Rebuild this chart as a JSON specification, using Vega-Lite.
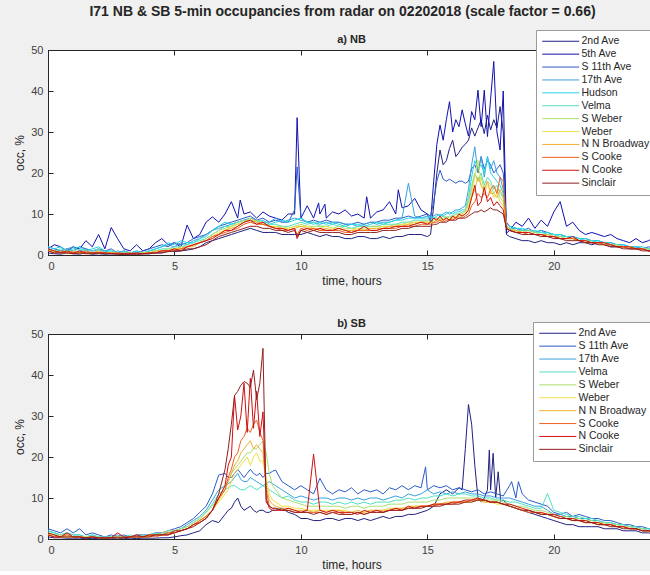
{
  "$schema": "https://vega.github.io/schema/vega-lite/v6.json",
  "background": "#f0f0f0",
  "padding": {"left": 13, "top": 5, "right": 0, "bottom": 0},
  "title": {
    "text": "I71 NB & SB 5-min occupancies from radar on 02202018 (scale factor = 0.66)",
    "fontSize": 14, "fontWeight": "bold", "color": "#262626", "anchor": "middle", "offset": 10, "dx": -9, "font": "Liberation Sans"
  },
  "config": {
    "font": "Liberation Sans",
    "view": {"stroke": "#262626", "fill": "white"},
    "axis": {
      "domainColor": "#262626", "tickColor": "#262626", "labelColor": "#404040", "titleColor": "#262626",
      "labelFontSize": 11, "titleFontSize": 12, "titleFontWeight": "normal", "grid": false,
      "tickSize": -5, "labelPadding": 10, "labelFont": "Liberation Sans", "titleFont": "Liberation Sans"
    },
    "legend": {
      "symbolType": "M-8,0H8", "symbolSize": 21.4, "symbolStrokeWidth": 1, "symbolOffset": 13.5,
      "labelFontSize": 10.5, "labelColor": "#262626", "labelFont": "Liberation Sans", "labelOffset": 15.5,
      "fillColor": "white", "strokeColor": "#9a9a9a", "padding": 6, "rowPadding": 1.9
    },
    "title": {"fontSize": 11, "fontWeight": "bold", "color": "#262626", "frame": "group", "font": "Liberation Sans"}
  },
  "datasets": {
    "stations": [
      {"key": "a", "name": "2nd Ave"}, {"key": "b", "name": "5th Ave"}, {"key": "c", "name": "S 11th Ave"},
      {"key": "d", "name": "17th Ave"}, {"key": "e", "name": "Hudson"}, {"key": "f", "name": "Velma"},
      {"key": "g", "name": "S Weber"}, {"key": "h", "name": "Weber"}, {"key": "i", "name": "N N Broadway"},
      {"key": "j", "name": "S Cooke"}, {"key": "k", "name": "N Cooke"}, {"key": "l", "name": "Sinclair"}
    ],
    "nb": [
      {"t":0,"a":0.5,"b":1.5,"c":2,"d":1.5,"e":2,"f":1.5,"g":1,"h":1,"i":1,"j":1,"k":1.5,"l":1},
      {"t":0.25,"a":0.3,"b":2.5,"c":1.5,"d":1,"e":1.5,"f":1,"g":1,"h":0.5,"i":1,"j":0.5,"k":1,"l":0.5},
      {"t":0.5,"a":0.2,"b":2,"c":1,"d":1,"e":2,"f":1.5,"g":0.5,"h":1,"i":0.5,"j":1,"k":0.5,"l":0.5},
      {"t":0.75,"a":0.5,"b":1,"c":1.5,"d":1.5,"e":1,"f":1,"g":1,"h":0.5,"i":0.5,"j":0.5,"k":1,"l":0.5},
      {"t":1,"a":0.3,"b":2,"c":1,"d":2,"e":1.5,"f":1,"g":0.5,"h":0.5,"i":1,"j":0.5,"k":0.5,"l":0.3},
      {"t":1.25,"a":0.2,"b":1.5,"c":2,"d":1,"e":2,"f":1.5,"g":1,"h":0.5,"i":0.5,"j":0.5,"k":1,"l":0.5},
      {"t":1.5,"a":0.5,"b":3.5,"c":1.5,"d":1.5,"e":1,"f":1,"g":0.5,"h":0.5,"i":0.5,"j":1,"k":0.5,"l":0.3},
      {"t":1.75,"a":0.2,"b":2,"c":1,"d":1,"e":1.5,"f":1,"g":0.5,"h":0.5,"i":0.5,"j":0.5,"k":0.5,"l":0.3},
      {"t":2,"a":0.3,"b":5,"c":1.5,"d":1,"e":2,"f":1.5,"g":1,"h":0.5,"i":1,"j":0.5,"k":0.5,"l":0.5},
      {"t":2.25,"a":0.2,"b":1.5,"c":1,"d":1,"e":1,"f":0.5,"g":0.5,"h":0.5,"i":0.5,"j":0.5,"k":0.5,"l":0.3},
      {"t":2.5,"a":0.3,"b":6.7,"c":1.5,"d":0.5,"e":1,"f":1,"g":0.5,"h":0.5,"i":0.5,"j":0.5,"k":0.3,"l":0.3},
      {"t":2.75,"a":0.2,"b":4,"c":0.5,"d":1,"e":0.5,"f":0.5,"g":0.5,"h":0.5,"i":0.3,"j":0.3,"k":0.5,"l":0.2},
      {"t":3,"a":0.1,"b":1.5,"c":1,"d":0.5,"e":1,"f":0.5,"g":0.3,"h":0.3,"i":0.5,"j":0.3,"k":0.3,"l":0.2},
      {"t":3.25,"a":0.2,"b":1,"c":0.5,"d":0.5,"e":0.5,"f":0.5,"g":0.5,"h":0.3,"i":0.3,"j":0.5,"k":0.3,"l":0.2},
      {"t":3.5,"a":0.1,"b":2.5,"c":0.5,"d":1,"e":1,"f":0.5,"g":0.3,"h":0.3,"i":0.3,"j":0.3,"k":0.5,"l":0.2},
      {"t":3.75,"a":0.3,"b":1,"c":1,"d":0.5,"e":0.5,"f":0.5,"g":0.5,"h":0.5,"i":0.5,"j":0.3,"k":0.3,"l":0.3},
      {"t":4,"a":0.3,"b":1.5,"c":1.5,"d":1,"e":1,"f":1,"g":0.5,"h":0.5,"i":0.5,"j":0.5,"k":0.5,"l":0.3},
      {"t":4.25,"a":0.5,"b":3,"c":2,"d":1.5,"e":1.5,"f":1,"g":1,"h":0.5,"i":1,"j":0.5,"k":0.5,"l":0.5},
      {"t":4.5,"a":0.5,"b":4,"c":2.5,"d":2,"e":2,"f":1.5,"g":1,"h":1,"i":1,"j":1,"k":1,"l":0.5},
      {"t":4.75,"a":1,"b":2.5,"c":2,"d":2.5,"e":3,"f":1.5,"g":1.5,"h":1,"i":1,"j":1,"k":1,"l":0.8},
      {"t":5,"a":0.8,"b":3,"c":3,"d":2,"e":2.5,"f":2,"g":1.5,"h":1.5,"i":1.5,"j":1,"k":1.5,"l":1},
      {"t":5.25,"a":1,"b":2,"c":2.5,"d":3,"e":3.5,"f":2,"g":2,"h":1.5,"i":1.5,"j":1.5,"k":1,"l":1},
      {"t":5.5,"a":1.2,"b":7.3,"c":3,"d":2.5,"e":3,"f":2.5,"g":2,"h":2,"i":2,"j":2,"k":2,"l":1.5},
      {"t":5.75,"a":1.5,"b":4,"c":4,"d":3.5,"e":3,"f":3,"g":2.5,"h":2.5,"i":2,"j":2.5,"k":2.5,"l":1.5},
      {"t":6,"a":2,"b":5,"c":4.5,"d":4,"e":4,"f":3.5,"g":3,"h":3,"i":3,"j":3,"k":3,"l":2},
      {"t":6.25,"a":3,"b":8,"c":5,"d":5,"e":4.5,"f":4,"g":4,"h":3.5,"i":3.5,"j":3.5,"k":3.5,"l":2.5},
      {"t":6.5,"a":3.5,"b":9.3,"c":6,"d":6,"e":6,"f":5,"g":5,"h":4.5,"i":4.5,"j":4.5,"k":4,"l":3.5},
      {"t":6.75,"a":4,"b":8,"c":7,"d":6.5,"e":7,"f":6,"g":6,"h":5.5,"i":5,"j":5,"k":5,"l":4.5},
      {"t":7,"a":4.5,"b":10,"c":7.5,"d":7,"e":8,"f":7,"g":6.5,"h":6,"i":6,"j":5.5,"k":6,"l":5},
      {"t":7.25,"a":5,"b":13,"c":8,"d":7.5,"e":7.5,"f":7,"g":7,"h":7,"i":6.5,"j":6,"k":6,"l":5.5},
      {"t":7.5,"a":5.5,"b":9,"c":8.5,"d":8,"e":8,"f":7.5,"g":8,"h":7.5,"i":7,"j":6.5,"k":7,"l":6},
      {"t":7.6,"b":13.4},
      {"t":7.75,"a":6,"b":10,"c":9,"d":8.5,"e":8.5,"f":8,"g":8.5,"h":8,"i":8,"j":7.5,"k":8,"l":6.5},
      {"t":8,"a":6.5,"b":10.5,"c":9.5,"d":9,"e":8.5,"f":8.5,"g":8,"h":9,"i":8.5,"j":8,"k":8.5,"l":7},
      {"t":8.25,"a":6,"b":9,"c":8.5,"d":8.5,"e":8,"f":8,"g":8.5,"h":8,"i":8,"j":7.5,"k":7.5,"l":7},
      {"t":8.5,"a":5.5,"b":10.5,"c":9,"d":8,"e":8.5,"f":7.5,"g":8,"h":7.5,"i":7.5,"j":7.5,"k":8,"l":6.5},
      {"t":8.75,"a":5.5,"b":9.5,"c":8,"d":8,"e":7.5,"f":7.5,"g":7,"h":7,"i":7,"j":7,"k":7,"l":6.5},
      {"t":9,"a":5.5,"b":9,"c":8.5,"d":9,"e":8,"f":7.5,"g":7,"h":7,"i":6.5,"j":6.5,"k":6.5,"l":6},
      {"t":9.25,"a":5,"b":8.5,"c":8,"d":8,"e":8.5,"f":7,"g":7,"h":6.5,"i":6.5,"j":6,"k":6.5,"l":6},
      {"t":9.5,"a":5,"b":10,"c":8,"d":8.5,"e":8,"f":7,"g":6.5,"h":6.5,"i":6,"j":6,"k":6,"l":5.5},
      {"t":9.75,"a":5,"b":10,"c":11,"d":9,"e":8.5,"f":7.5,"g":7,"h":7,"i":6.5,"j":6.5,"k":6.5,"l":6},
      {"t":9.85,"b":33.5,"c":21.5,"j":5,"k":4,"l":4.5},
      {"t":10,"a":5,"b":9,"c":9,"d":8.5,"e":9,"f":8,"g":7.5,"h":7,"i":7,"j":6.5,"k":6,"l":6},
      {"t":10.25,"a":5.5,"b":12,"c":8,"d":8,"e":8,"f":7.5,"g":7,"h":7,"i":6.5,"j":6,"k":6.5,"l":5.5},
      {"t":10.5,"a":5,"b":9,"c":8.5,"d":8,"e":7.5,"f":8,"g":7,"h":6.5,"i":6.5,"j":6.5,"k":6,"l":6},
      {"t":10.7,"b":12.7},
      {"t":10.75,"a":4.5,"b":10,"c":8,"d":7.5,"e":8,"f":7,"g":7,"h":6.5,"i":6,"j":6,"k":6.5,"l":5.5},
      {"t":10.95,"b":12.4},
      {"t":11,"a":5,"b":9,"c":8.5,"d":8,"e":7.5,"f":7,"g":7,"h":7,"i":6.5,"j":6,"k":6,"l":5.5},
      {"t":11.25,"a":4.5,"b":10.5,"c":8,"d":7.5,"e":8,"f":7.5,"g":6.5,"h":6.5,"i":6,"j":6,"k":6,"l":5.5},
      {"t":11.5,"a":4.5,"b":10,"c":8,"d":8,"e":7.5,"f":7,"g":7,"h":6.5,"i":6.5,"j":6,"k":6.5,"l":5.5},
      {"t":11.75,"a":4,"b":11,"c":7.5,"d":7.5,"e":7,"f":7,"g":6.5,"h":6,"i":6,"j":5.5,"k":6,"l":5},
      {"t":12,"a":4,"b":9.5,"c":7.5,"d":7.5,"e":7.5,"f":6.5,"g":6.5,"h":6,"i":6,"j":5.5,"k":5.5,"l":5},
      {"t":12.25,"a":4.5,"b":10,"c":8,"d":7,"e":7.5,"f":7,"g":6.5,"h":6.5,"i":6,"j":6,"k":6,"l":5.5},
      {"t":12.5,"a":4.5,"b":9,"c":7.5,"d":7.5,"e":7,"f":7,"g":6.5,"h":6,"i":6,"j":6,"k":7,"l":5.5},
      {"t":12.6,"b":14.2},
      {"t":12.75,"a":4,"b":9,"c":8,"d":8,"e":7.5,"f":7,"g":7,"h":6.5,"i":6.5,"j":6,"k":6,"l":5.5},
      {"t":13,"a":4,"b":10.5,"c":8,"d":7.5,"e":8,"f":7,"g":7,"h":6.5,"i":6.5,"j":6,"k":6,"l":5.5},
      {"t":13.25,"a":4.5,"b":11,"c":8.5,"d":8,"e":7.5,"f":7.5,"g":7,"h":7,"i":6.5,"j":6.5,"k":6.5,"l":6},
      {"t":13.5,"a":4,"b":13,"c":8.5,"d":8,"e":8,"f":7.5,"g":7,"h":7,"i":7,"j":6.5,"k":6.5,"l":6},
      {"t":13.75,"a":4.5,"b":10,"c":9,"d":8.5,"e":8.5,"f":7.5,"g":7.5,"h":7,"i":7,"j":6.5,"k":7,"l":6},
      {"t":13.85,"b":15.9},
      {"t":14,"a":4.5,"b":11.5,"c":9,"d":9,"e":8.5,"f":8,"g":7.5,"h":7.5,"i":7,"j":7,"k":7,"l":6.5},
      {"t":14.25,"a":5,"b":12,"c":9.5,"d":17.5,"e":9,"f":8,"g":8,"h":7.5,"i":7.5,"j":7,"k":7,"l":6.5},
      {"t":14.5,"a":5,"b":13.8,"c":9,"d":9.5,"e":9,"f":8.5,"g":8,"h":8,"i":7.5,"j":7,"k":7.5,"l":7},
      {"t":14.75,"a":5,"b":11,"c":9.5,"d":9,"e":9,"f":8.5,"g":8,"h":8,"i":8,"j":7.5,"k":8,"l":7},
      {"t":15,"a":4.5,"b":10,"c":10,"d":9.5,"e":9,"f":8.5,"g":8.5,"h":8,"i":8,"j":7.5,"k":7.5,"l":7},
      {"t":15.125,"a":5,"b":8,"c":9.5,"d":9,"e":9.5,"f":8.5,"g":8,"h":8,"i":7.5,"j":7.5,"k":8,"l":7},
      {"t":15.25,"a":12,"b":18,"c":13,"d":9.5,"e":9,"f":9,"g":8.5,"h":8,"i":8,"j":8,"k":9,"l":7.5},
      {"t":15.375,"a":20,"b":27,"c":18,"d":10,"e":9.5,"f":9,"g":9,"h":8.5,"i":8.5,"j":8,"k":8.5,"l":7.5},
      {"t":15.5,"a":25.6,"b":31.7,"c":20.7,"d":9.5,"e":10,"f":9,"g":8.5,"h":9,"i":8.5,"j":8.5,"k":9.5,"l":8},
      {"t":15.625,"a":22,"b":28,"c":18.5,"d":10,"e":9.5,"f":9.5,"g":9,"h":8.5,"i":8.5,"j":8,"k":8.5,"l":8},
      {"t":15.75,"a":23,"b":33,"c":18,"d":10.5,"e":10,"f":9,"g":9.5,"h":9,"i":9,"j":8.5,"k":9,"l":8},
      {"t":15.875,"a":26,"b":37.4,"c":18.5,"d":10,"e":10.5,"f":9.5,"g":9,"h":9,"i":8.5,"j":8.5,"k":8.5,"l":8.5},
      {"t":16,"a":28,"b":30,"c":18,"d":10.5,"e":10,"f":9.5,"g":9.5,"h":9,"i":9,"j":8.5,"k":9.5,"l":8.5},
      {"t":16.125,"a":24,"b":33,"c":17.5,"d":11,"e":10.5,"f":10,"g":10,"h":9.5,"i":9,"j":9,"k":9,"l":8.5},
      {"t":16.25,"a":25,"b":31.3,"c":18,"d":11,"e":10.5,"f":10,"g":10,"h":9.5,"i":9.5,"j":9,"k":10,"l":9},
      {"t":16.375,"a":26.3,"b":35.4,"c":18,"d":11.5,"e":11,"f":10.5,"g":10,"h":10,"i":9.5,"j":9,"k":9.5,"l":9},
      {"t":16.5,"a":27,"b":32,"c":17.5,"d":12,"e":11,"f":10.5,"g":11,"h":10.5,"i":10,"j":9.5,"k":10,"l":9},
      {"t":16.625,"a":28,"b":29,"c":18,"d":16,"e":14,"f":13,"g":14,"h":12,"i":11,"j":10,"k":11,"l":9.5},
      {"t":16.75,"a":31,"b":35,"c":21,"d":22,"e":19,"f":16,"g":17,"h":15,"i":14,"j":12,"k":14,"l":10},
      {"t":16.875,"a":29,"b":33,"c":22,"d":26.4,"e":23,"f":20,"g":20,"h":19,"i":16,"j":13,"k":17,"l":10.5},
      {"t":17,"a":31,"b":40.2,"c":20,"d":20,"e":21,"f":18,"g":18,"h":23.2,"i":19,"j":15,"k":12,"l":10.5},
      {"t":17.125,"a":32.9,"b":31.3,"c":24,"d":24,"e":22,"f":20,"g":19,"h":17,"i":17,"j":14,"k":13,"l":11},
      {"t":17.25,"a":29.6,"b":40.2,"c":21,"d":19,"e":20,"f":17,"g":16,"h":15,"i":16,"j":15,"k":16.5,"l":10.5},
      {"t":17.375,"a":34.1,"b":28.9,"c":23,"d":24,"e":24,"f":19,"g":18,"h":17,"i":18,"j":14,"k":13,"l":11},
      {"t":17.5,"a":30.5,"b":38,"c":22,"d":21,"e":20,"f":18,"g":17,"h":16,"i":15,"j":16,"k":14,"l":11.5},
      {"t":17.625,"a":33,"b":47.2,"c":20,"d":23,"e":19,"f":16,"g":15,"h":14,"i":15,"j":17,"k":12,"l":11},
      {"t":17.75,"a":31,"b":30,"c":21,"d":20,"e":18,"f":17,"g":16,"h":15,"i":14,"j":15,"k":13,"l":11},
      {"t":17.875,"a":36.2,"b":25.6,"c":22,"d":19,"e":17,"f":15,"g":14,"h":13,"i":16,"j":19,"k":12,"l":10.5},
      {"t":18,"a":30,"b":40,"c":20,"d":16,"e":15,"f":14,"g":13,"h":12,"i":14,"j":18,"k":11,"l":10},
      {"t":18.125,"a":5,"b":5.3,"c":8,"d":7,"e":7.5,"f":7,"g":7,"h":7,"i":7,"j":6.5,"k":6.5,"l":6.5},
      {"t":18.25,"a":4.5,"b":6,"c":7,"d":6.5,"e":7,"f":6.5,"g":6.5,"h":6,"i":6,"j":6,"k":6,"l":6},
      {"t":18.5,"a":4,"b":8,"c":6.5,"d":6.5,"e":6.5,"f":6,"g":6,"h":6,"i":6,"j":5.5,"k":5.5,"l":5.5},
      {"t":18.75,"a":3.5,"b":7,"c":6,"d":6,"e":6.5,"f":6,"g":5.5,"h":5.5,"i":5.5,"j":5.5,"k":5.5,"l":5},
      {"t":19,"a":3.5,"b":9,"c":6.5,"d":6,"e":6,"f":6,"g":6,"h":5.5,"i":5.5,"j":5,"k":5.5,"l":5},
      {"t":19.25,"a":3,"b":6.5,"c":5.5,"d":5.5,"e":6,"f":5.5,"g":5.5,"h":5,"i":5,"j":5,"k":5,"l":5},
      {"t":19.5,"a":3.5,"b":8.5,"c":6,"d":6,"e":5.5,"f":5.5,"g":5,"h":5,"i":5,"j":5,"k":5,"l":4.5},
      {"t":19.75,"a":3,"b":7,"c":5.5,"d":5,"e":5.5,"f":5,"g":5,"h":4.5,"i":5,"j":4.5,"k":4.5,"l":4.5},
      {"t":20,"a":3,"b":10.5,"c":5,"d":5,"e":5,"f":5,"g":4.5,"h":4.5,"i":4.5,"j":4.5,"k":4.5,"l":4},
      {"t":20.25,"a":2.5,"b":13,"c":5,"d":4.5,"e":5,"f":4.5,"g":4.5,"h":4,"i":4,"j":4,"k":4,"l":4},
      {"t":20.5,"a":3,"b":7,"c":4.5,"d":4.5,"e":4.5,"f":4.5,"g":4,"h":4,"i":4,"j":4,"k":4,"l":3.5},
      {"t":20.75,"a":2.5,"b":8,"c":4.5,"d":4,"e":4.5,"f":4,"g":4,"h":4,"i":4,"j":4,"k":4.5,"l":3.5},
      {"t":21,"a":3,"b":6,"c":4,"d":4,"e":4,"f":4,"g":3.5,"h":3.5,"i":3.5,"j":3.5,"k":3.5,"l":3.5},
      {"t":21.25,"a":3,"b":5,"c":4,"d":3.5,"e":4,"f":3.5,"g":3.5,"h":3.5,"i":3.5,"j":3,"k":3.5,"l":3},
      {"t":21.5,"a":2.5,"b":5.5,"c":3.5,"d":3.5,"e":3.5,"f":3.5,"g":3,"h":3,"i":3,"j":3,"k":3,"l":3},
      {"t":21.75,"a":3,"b":5,"c":3.5,"d":3,"e":3.5,"f":3,"g":3,"h":3,"i":3,"j":3,"k":3,"l":2.5},
      {"t":22,"a":2.5,"b":4.5,"c":3,"d":3,"e":3,"f":3,"g":3,"h":2.5,"i":2.5,"j":2.5,"k":3,"l":2.5},
      {"t":22.25,"a":2,"b":5,"c":3,"d":2.5,"e":3,"f":2.5,"g":2.5,"h":2.5,"i":2.5,"j":2.5,"k":2.5,"l":2},
      {"t":22.5,"a":2,"b":4,"c":2.5,"d":2.5,"e":2.5,"f":2.5,"g":2.5,"h":2,"i":2,"j":2,"k":2,"l":2},
      {"t":22.75,"a":2,"b":3.5,"c":2.5,"d":2,"e":2.5,"f":2,"g":2,"h":2,"i":2,"j":2,"k":2,"l":1.5},
      {"t":23,"a":1.5,"b":3,"c":2,"d":2,"e":2,"f":2,"g":2,"h":2,"i":2,"j":1.5,"k":2,"l":1.5},
      {"t":23.25,"a":1.5,"b":4,"c":2,"d":2,"e":2,"f":1.5,"g":1.5,"h":1.5,"i":1.5,"j":1.5,"k":1.5,"l":1.5},
      {"t":23.5,"a":1.5,"b":3,"c":1.5,"d":1.5,"e":2,"f":1.5,"g":1.5,"h":1.5,"i":1.5,"j":1.5,"k":1.5,"l":1},
      {"t":23.75,"a":1,"b":3.5,"c":2,"d":1.5,"e":1.5,"f":1.5,"g":1.5,"h":1,"i":1,"j":1,"k":1,"l":1},
      {"t":24,"a":1,"b":4.5,"c":1.5,"d":1.5,"e":1.5,"f":1,"g":1,"h":1,"i":1,"j":1,"k":1,"l":1}
    ],
    "sb": [
      {"t":0,"a":0.5,"c":2.5,"d":2,"f":2,"g":1.5,"h":1,"i":1,"j":1,"k":1,"l":1.5},
      {"t":0.25,"a":0.3,"c":2,"d":1.5,"f":1.5,"g":1,"h":1,"i":1,"j":0.5,"k":0.5,"l":1},
      {"t":0.5,"a":0.3,"c":1.5,"d":1,"f":1,"g":1,"h":0.5,"i":0.5,"j":0.5,"k":0.5,"l":0.5},
      {"t":0.75,"a":0.2,"c":2.5,"d":1.5,"f":1.5,"g":1,"h":0.5,"i":0.5,"j":1,"k":1.5,"l":0.5},
      {"t":1,"a":0.2,"c":1.5,"d":1,"f":1,"g":0.5,"h":0.5,"i":0.5,"j":0.5,"k":0.5,"l":0.5},
      {"t":1.25,"a":0.2,"c":2.5,"d":1,"f":1,"g":0.5,"h":0.5,"i":0.5,"j":0.5,"k":0.5,"l":0.5},
      {"t":1.5,"a":0.1,"c":1,"d":0.5,"f":0.5,"g":0.5,"h":0.5,"i":0.3,"j":0.3,"k":0.3,"l":0.3},
      {"t":1.75,"a":0.1,"c":1.5,"d":1,"f":1,"g":0.5,"h":0.5,"i":0.5,"j":0.5,"k":0.5,"l":0.5},
      {"t":2,"a":0.1,"c":1,"d":0.5,"f":0.5,"g":0.5,"h":0.3,"i":0.3,"j":0.3,"k":0.3,"l":0.3},
      {"t":2.25,"a":0.1,"c":0.5,"d":0.5,"f":0.5,"g":0.3,"h":0.3,"i":0.3,"j":0.3,"k":0.3,"l":0.2},
      {"t":2.5,"a":0.1,"c":1,"d":0.5,"f":0.5,"g":0.5,"h":0.3,"i":0.3,"j":0.3,"k":0.3,"l":0.3},
      {"t":2.75,"a":0.2,"c":0.5,"d":1,"f":0.5,"g":0.3,"h":0.5,"i":0.3,"j":0.5,"k":1.5,"l":0.3},
      {"t":3,"a":0.1,"c":1,"d":0.5,"f":0.5,"g":0.5,"h":0.3,"i":0.3,"j":0.3,"k":0.5,"l":0.3},
      {"t":3.25,"a":0.2,"c":0.5,"d":0.5,"f":1,"g":0.5,"h":0.5,"i":0.5,"j":0.5,"k":0.5,"l":0.5},
      {"t":3.5,"a":0.1,"c":1,"d":1,"f":0.5,"g":0.5,"h":0.5,"i":0.5,"j":0.5,"k":1,"l":0.5},
      {"t":3.75,"a":0.2,"c":1,"d":0.5,"f":1,"g":0.5,"h":0.5,"i":0.5,"j":0.5,"k":0.5,"l":0.5},
      {"t":4,"a":0.2,"c":1,"d":1,"f":1,"g":1,"h":0.5,"i":0.5,"j":1,"k":1,"l":0.5},
      {"t":4.25,"a":0.2,"c":1.5,"d":1,"f":1.5,"g":1,"h":1,"i":1,"j":0.5,"k":1,"l":1},
      {"t":4.5,"a":0.3,"c":1.5,"d":1.5,"f":1,"g":1.5,"h":1,"i":1,"j":1,"k":1,"l":1},
      {"t":4.75,"a":0.3,"c":2,"d":1.5,"f":1.5,"g":2,"h":1,"i":1.5,"j":1.5,"k":1,"l":1},
      {"t":5,"a":0.5,"c":2.5,"d":2,"f":2,"g":2,"h":1.5,"i":1.5,"j":1.5,"k":2,"l":1.5},
      {"t":5.25,"a":0.8,"c":3,"d":2.5,"f":2.5,"g":2.5,"h":2,"i":2,"j":2,"k":2,"l":2},
      {"t":5.5,"a":1,"c":4,"d":3.5,"f":3,"g":3,"h":2.5,"i":2.5,"j":2.5,"k":2.5,"l":2.5},
      {"t":5.75,"a":1.5,"c":5,"d":4.5,"f":4,"g":4,"h":3.5,"i":3.5,"j":3.5,"k":3.5,"l":3},
      {"t":6,"a":2,"c":6.5,"d":5.5,"f":5,"g":5,"h":4.5,"i":4.5,"j":4.5,"k":4,"l":4},
      {"t":6.25,"a":3.5,"c":8,"d":7,"f":6.5,"g":6.5,"h":5.5,"i":5.5,"j":5.5,"k":5,"l":5},
      {"t":6.5,"a":4.5,"c":11,"d":9.5,"f":8.5,"g":8,"h":7,"i":7,"j":7,"k":7,"l":7},
      {"t":6.75,"a":4,"c":15.6,"d":12,"f":11,"g":10,"h":9,"i":9.5,"j":10,"k":10,"l":11},
      {"t":7,"a":6,"c":16,"d":13,"f":12,"g":13,"h":11,"i":12,"j":12,"k":13,"l":17},
      {"t":7.125,"a":7,"c":15,"d":13.5,"f":12.5,"g":14,"h":12,"i":14,"j":15,"k":18,"l":22},
      {"t":7.25,"a":7.5,"c":15,"d":14,"f":13,"g":16,"h":14,"i":16,"j":17,"k":20,"l":28},
      {"t":7.375,"a":9,"c":16,"d":15,"f":13,"g":17,"h":16,"i":18,"j":20,"k":35,"l":35},
      {"t":7.5,"a":10,"c":17,"d":16,"f":12.5,"g":18,"h":17,"i":19,"j":21,"k":26.6,"l":36},
      {"t":7.625,"a":8,"c":16,"d":14.5,"f":12,"g":19,"h":18,"i":21,"j":24,"k":30,"l":37.5},
      {"t":7.75,"a":7,"c":15,"d":14,"f":12,"g":20,"h":19,"i":22,"j":25,"k":38,"l":38.4},
      {"t":7.875,"a":7.5,"c":16,"d":14,"f":12.5,"g":21,"h":20,"i":23,"j":27,"k":26,"l":38},
      {"t":8,"a":8,"c":17,"d":15,"f":13,"g":21,"h":18,"i":24,"j":26,"k":39.2,"l":37},
      {"t":8.125,"a":7,"c":16,"d":14.5,"f":12.5,"g":22,"h":20,"i":22,"j":28,"k":27,"l":41.2},
      {"t":8.25,"a":6.5,"c":15.5,"d":14,"f":12,"g":22,"h":21,"i":23,"j":29,"k":36,"l":34},
      {"t":8.375,"a":7,"c":16,"d":13.5,"f":12.5,"g":23,"h":19,"i":22,"j":26,"k":25,"l":38},
      {"t":8.5,"a":7,"c":15,"d":13,"f":13,"g":23.9,"h":19,"i":21,"j":24,"k":31,"l":46.5},
      {"t":8.625,"a":6.5,"c":16,"d":13.5,"f":12.5,"g":21,"h":15,"i":13,"j":12,"k":10,"l":9},
      {"t":8.75,"a":6.5,"c":16,"d":14,"f":12,"g":16,"h":11,"i":9.5,"j":8,"k":7.5,"l":8},
      {"t":8.875,"a":7,"c":16.5,"d":13.5,"f":11.5,"g":13,"h":9.5,"i":8.5,"j":7.5,"k":7,"l":7.5},
      {"t":9,"a":7,"c":16.8,"d":13,"f":11,"g":12,"h":9,"i":8,"j":7.5,"k":7,"l":7.5},
      {"t":9.25,"a":7.5,"c":14,"d":12,"f":10,"g":10,"h":8,"i":7.5,"j":7,"k":7,"l":7},
      {"t":9.5,"a":6.5,"c":13,"d":11,"f":10.5,"g":9.5,"h":8,"i":7.5,"j":7,"k":7.5,"l":7},
      {"t":9.75,"a":6,"c":12,"d":10,"f":9.5,"g":9,"h":7.5,"i":7,"j":6.5,"k":7,"l":6.5},
      {"t":10,"a":5,"c":13,"d":10.5,"f":9,"g":8.5,"h":7.5,"i":7,"j":6.5,"k":6.5,"l":6.5},
      {"t":10.25,"a":5,"c":12,"d":10,"f":9,"g":8,"h":7,"i":7,"j":6.5,"k":7,"l":6.5},
      {"t":10.5,"a":4.5,"c":11,"d":9.5,"f":8.5,"g":8,"h":7,"i":6.5,"j":6.5,"k":20.7,"l":6},
      {"t":10.75,"a":4.5,"c":14.8,"d":10,"f":9,"g":8,"h":7,"i":7,"j":6.5,"k":7,"l":6.5},
      {"t":11,"a":5,"c":12,"d":10,"f":9,"g":8,"h":7,"i":6.5,"j":6,"k":6.5,"l":6},
      {"t":11.25,"a":5,"c":11,"d":9.5,"f":8.5,"g":8,"h":7,"i":7,"j":6.5,"k":7,"l":6.5},
      {"t":11.5,"a":4.5,"c":12,"d":10,"f":9,"g":8,"h":7,"i":7,"j":6.5,"k":6.5,"l":6},
      {"t":11.75,"a":5,"c":11.5,"d":10,"f":8.5,"g":7.5,"h":7,"i":6.5,"j":6,"k":6.5,"l":6},
      {"t":12,"a":5,"c":12.5,"d":9.5,"f":9,"g":8,"h":6.5,"i":6.5,"j":6,"k":6.5,"l":6},
      {"t":12.25,"a":4.5,"c":11,"d":10,"f":8.5,"g":8,"h":6.5,"i":7,"j":6.5,"k":6,"l":6.5},
      {"t":12.5,"a":5,"c":12,"d":9.5,"f":9,"g":7.5,"h":6.5,"i":6.5,"j":6,"k":7,"l":6},
      {"t":12.75,"a":4.5,"c":11.5,"d":10,"f":8.5,"g":8,"h":7,"i":7,"j":6.5,"k":6.5,"l":6.5},
      {"t":13,"a":5,"c":12,"d":10,"f":9,"g":8,"h":7,"i":7,"j":6.5,"k":7,"l":6.5},
      {"t":13.25,"a":5.5,"c":11,"d":9.5,"f":9,"g":8,"h":7,"i":7,"j":6.5,"k":6.5,"l":6.5},
      {"t":13.5,"a":5,"c":12.5,"d":10,"f":9,"g":8.5,"h":7.5,"i":7,"j":7,"k":7,"l":7},
      {"t":13.75,"a":5.5,"c":12,"d":10.5,"f":9.5,"g":8.5,"h":7.5,"i":7.5,"j":7,"k":7.5,"l":7},
      {"t":14,"a":5.5,"c":13,"d":10,"f":9.5,"g":8.5,"h":7.5,"i":7.5,"j":7,"k":7,"l":7},
      {"t":14.25,"a":6,"c":12,"d":11,"f":10,"g":9,"h":8,"i":7.5,"j":7.5,"k":8,"l":7.5},
      {"t":14.5,"a":6,"c":13,"d":10.5,"f":9.5,"g":9,"h":8,"i":8,"j":7.5,"k":7.5,"l":7.5},
      {"t":14.75,"a":6.5,"c":12.5,"d":11,"f":10,"g":9,"h":8,"i":8,"j":8,"k":8,"l":7.5},
      {"t":14.93,"c":17.6},
      {"t":15,"a":7,"c":12,"d":12,"f":10,"g":9,"h":8,"i":8,"j":8,"k":8,"l":8},
      {"t":15.25,"a":8,"c":13,"d":11,"f":10.5,"g":9.5,"h":8.5,"i":8.5,"j":8,"k":8.5,"l":8},
      {"t":15.5,"a":11,"c":12.5,"d":11.5,"f":10.5,"g":9.5,"h":8.5,"i":8.5,"j":8.5,"k":8.5,"l":8},
      {"t":15.75,"a":12,"c":13,"d":11,"f":11,"g":10,"h":8.5,"i":9,"j":8.5,"k":8.5,"l":8.5},
      {"t":16,"a":11,"c":12,"d":11.5,"f":10.5,"g":10,"h":9,"i":9,"j":8.5,"k":9,"l":8.5},
      {"t":16.25,"a":12.5,"c":12.5,"d":11,"f":11,"g":10,"h":9,"i":9,"j":9,"k":9,"l":8.5},
      {"t":16.375,"a":12},
      {"t":16.5,"a":22,"c":12,"d":11.5,"f":11,"g":10,"h":9,"i":9,"j":9,"k":9.5,"l":9},
      {"t":16.625,"a":32.8},
      {"t":16.75,"a":28,"c":11.5,"d":11,"f":10.5,"g":10,"h":9,"i":9.5,"j":9.5,"k":9.5,"l":9},
      {"t":16.875,"a":18},
      {"t":17,"a":10,"c":12,"d":11,"f":10.5,"g":10,"h":9.5,"i":9.5,"j":9.5,"k":10,"l":9.5},
      {"t":17.125,"a":9},
      {"t":17.25,"a":10,"c":11,"d":10.5,"f":10,"g":9.5,"h":9,"i":9,"j":9.5,"k":9.5,"l":9.5},
      {"t":17.375,"a":12},
      {"t":17.45,"a":21.7},
      {"t":17.5,"a":12,"c":11.5,"d":10.5,"f":10,"g":9.5,"h":9,"i":9,"j":9,"k":9,"l":9},
      {"t":17.6,"a":20.9},
      {"t":17.7,"a":10},
      {"t":17.75,"c":11,"d":10,"f":9.5,"g":9.5,"h":8.5,"i":9,"j":9,"k":9,"l":9},
      {"t":17.8,"a":16.4},
      {"t":17.9,"a":9},
      {"t":18,"a":9.5,"c":10.5,"d":10,"f":9.5,"g":9,"h":8.5,"i":8.5,"j":8.5,"k":8.5,"l":8.5},
      {"t":18.25,"a":8,"c":13,"d":10,"f":9,"g":8.5,"h":8,"i":8,"j":8,"k":8.5,"l":8},
      {"t":18.33,"c":14},
      {"t":18.5,"a":7.5,"c":10,"d":9.5,"f":9,"g":8,"h":7.5,"i":7.5,"j":7.5,"k":8,"l":7.5},
      {"t":18.6,"c":14},
      {"t":18.75,"a":7,"c":11,"d":9,"f":8.5,"g":8,"h":7,"i":7,"j":7,"k":7.5,"l":7},
      {"t":19,"a":6.5,"c":9.5,"d":8.5,"f":8,"g":7.5,"h":7,"i":7,"j":6.5,"k":7,"l":7},
      {"t":19.25,"a":6,"c":9,"d":8,"f":7.5,"g":7,"h":6.5,"i":6.5,"j":6.5,"k":6.5,"l":6.5},
      {"t":19.5,"a":5.5,"c":8.5,"d":8,"f":7.5,"g":7,"h":6.5,"i":6,"j":6,"k":6.5,"l":6},
      {"t":19.75,"a":5,"c":8,"d":7,"f":11.1,"g":6.5,"h":6,"i":6,"j":6,"k":6,"l":6},
      {"t":20,"a":4.5,"c":6.5,"d":6,"f":7,"g":6,"h":5.5,"i":5.5,"j":5.5,"k":6,"l":5.5},
      {"t":20.25,"a":4,"c":6,"d":6,"f":6.5,"g":5.5,"h":5,"i":5,"j":5,"k":5.5,"l":5},
      {"t":20.5,"a":3.5,"c":6.5,"d":5.5,"f":6,"g":5.5,"h":5,"i":5,"j":5,"k":5,"l":5},
      {"t":20.75,"a":3.5,"c":5.5,"d":5.5,"f":5.5,"g":5,"h":4.5,"i":4.5,"j":4.5,"k":5,"l":4.5},
      {"t":21,"a":3,"c":6,"d":5,"f":5.5,"g":5,"h":4.5,"i":4.5,"j":4.5,"k":4.5,"l":4.5},
      {"t":21.25,"a":3,"c":5.5,"d":5,"f":5,"g":4.5,"h":4,"i":4,"j":4,"k":4.5,"l":4},
      {"t":21.5,"a":3,"c":5,"d":4.5,"f":5,"g":4.5,"h":4,"i":4,"j":4,"k":4,"l":4},
      {"t":21.75,"a":3,"c":5,"d":4.5,"f":4.5,"g":4,"h":4,"i":3.5,"j":3.5,"k":4,"l":3.5},
      {"t":22,"a":2.5,"c":4.5,"d":4,"f":4,"g":4,"h":3.5,"i":3.5,"j":3.5,"k":3.5,"l":3.5},
      {"t":22.25,"a":2.5,"c":4.5,"d":4,"f":4,"g":3.5,"h":3.5,"i":3.5,"j":3.5,"k":3.5,"l":3},
      {"t":22.5,"a":2.5,"c":4,"d":3.5,"f":3.5,"g":3.5,"h":3,"i":3,"j":3,"k":3,"l":3},
      {"t":22.75,"a":2,"c":3.5,"d":3.5,"f":3.5,"g":3,"h":3,"i":3,"j":3,"k":3,"l":2.5},
      {"t":23,"a":2,"c":3.5,"d":3,"f":3,"g":3,"h":2.5,"i":2.5,"j":2.5,"k":2.5,"l":2.5},
      {"t":23.25,"a":2,"c":3,"d":3,"f":3,"g":2.5,"h":2.5,"i":2.5,"j":2.5,"k":2.5,"l":2.5},
      {"t":23.5,"a":1.5,"c":3,"d":2.5,"f":2.5,"g":2.5,"h":2,"i":2,"j":2,"k":2,"l":2},
      {"t":23.75,"a":1.5,"c":2.5,"d":2.5,"f":2.5,"g":2,"h":2,"i":2,"j":2,"k":2,"l":2},
      {"t":24,"a":1,"c":2,"d":2,"f":2,"g":2,"h":1.5,"i":1.5,"j":1.5,"k":1.5,"l":1.5}
    ]
  },
  "bounds": "flush",
  "spacing": 79,
  "resolve": {"scale": {"color": "independent"}, "legend": {"color": "independent"}},
  "vconcat": [
    {
      "width": 607, "height": 205,
      "title": {"text": "a) NB", "offset": -15},
      "data": {"name": "nb"},
      "transform": [
        {"fold": ["a","b","c","d","e","f","g","h","i","j","k","l"], "as": ["key", "occ"]},
        {"filter": "isValid(datum.occ)"},
        {"lookup": "key", "from": {"data": {"name": "stations"}, "key": "key", "fields": ["name"]}}
      ],
      "resolve": {"axis": {"x": "independent"}},
      "layer": [
        {
          "mark": {"type": "line", "strokeWidth": 1, "clip": true},
          "encoding": {
            "x": {"field": "t", "type": "quantitative", "scale": {"domain": [0, 24], "nice": false},
                  "axis": {"values": [0, 5, 10, 15, 20], "title": "time, hours", "titlePadding": 4}},
            "y": {"field": "occ", "type": "quantitative", "scale": {"domain": [0, 50], "nice": false},
                  "axis": {"values": [0, 10, 20, 30, 40, 50], "title": "occ, %", "titlePadding": 4}},
            "color": {
              "field": "name", "type": "nominal",
              "scale": {
                "domain": ["2nd Ave","5th Ave","S 11th Ave","17th Ave","Hudson","Velma","S Weber","Weber","N N Broadway","S Cooke","N Cooke","Sinclair"],
                "range": ["#202080","#1010b0","#2a5cc8","#3aa0e0","#20d8e8","#50e0c0","#a8e070","#f0e040","#f0b030","#f06020","#d01010","#902020"]
              },
              "legend": {"title": null, "orient": "none", "legendX": 488, "legendY": -20}
            }
          }
        },
        {
          "mark": {"type": "point", "opacity": 0},
          "encoding": {
            "x": {"field": "t", "type": "quantitative", "scale": {"domain": [0, 24], "nice": false},
                  "axis": {"orient": "top", "labels": false, "title": null, "domain": false, "values": [0, 5, 10, 15, 20]}},
            "y": {"field": "occ", "type": "quantitative"}
          }
        }
      ]
    },
    {
      "width": 607, "height": 205,
      "title": {"text": "b) SB", "offset": -7},
      "data": {"name": "sb"},
      "transform": [
        {"fold": ["a","c","d","f","g","h","i","j","k","l"], "as": ["key", "occ"]},
        {"filter": "isValid(datum.occ)"},
        {"lookup": "key", "from": {"data": {"name": "stations"}, "key": "key", "fields": ["name"]}}
      ],
      "resolve": {"axis": {"x": "independent"}},
      "layer": [
        {
          "mark": {"type": "line", "strokeWidth": 1, "clip": true},
          "encoding": {
            "x": {"field": "t", "type": "quantitative", "scale": {"domain": [0, 24], "nice": false},
                  "axis": {"values": [0, 5, 10, 15, 20], "title": "time, hours", "titlePadding": 4}},
            "y": {"field": "occ", "type": "quantitative", "scale": {"domain": [0, 50], "nice": false},
                  "axis": {"values": [0, 10, 20, 30, 40, 50], "title": "occ, %", "titlePadding": 4}},
            "color": {
              "field": "name", "type": "nominal",
              "scale": {
                "domain": ["2nd Ave","S 11th Ave","17th Ave","Velma","S Weber","Weber","N N Broadway","S Cooke","N Cooke","Sinclair"],
                "range": ["#202080","#2a5cc8","#3aa0e0","#50e0c0","#a8e070","#f0e040","#f0b030","#f06020","#d01010","#902020"]
              },
              "legend": {"title": null, "orient": "none", "legendX": 485, "legendY": -12}
            }
          }
        },
        {
          "mark": {"type": "point", "opacity": 0},
          "encoding": {
            "x": {"field": "t", "type": "quantitative", "scale": {"domain": [0, 24], "nice": false},
                  "axis": {"orient": "top", "labels": false, "title": null, "domain": false, "values": [0, 5, 10, 15, 20]}},
            "y": {"field": "occ", "type": "quantitative"}
          }
        }
      ]
    }
  ]
}
